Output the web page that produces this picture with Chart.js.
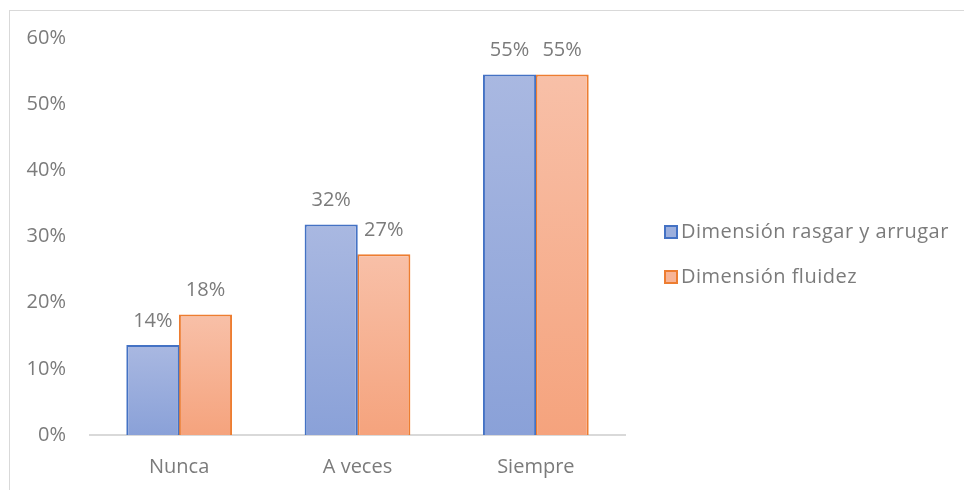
<!DOCTYPE html>
<html>
<head>
<meta charset="utf-8">
<script src="https://cdn.jsdelivr.net/npm/chart.js@4"></script>
<style>
html,body{margin:0;padding:0;background:#fff;}
#wrap{position:relative;width:964px;height:490px;overflow:hidden;}
#frame{position:absolute;left:9px;top:10px;width:1000px;height:600px;border-left:1px solid #d9d9d9;border-top:1px solid #d9d9d9;}
canvas{position:absolute;left:0;top:0;}
</style>
</head>
<body>
<div id="wrap"><div id="frame"></div><canvas id="chart-1" width="964" height="490"></canvas></div>
<script>
const categories=['Nunca','A veces','Siempre'];
const rasgar=[0.136,0.318,0.545];
const fluidez=[0.182,0.273,0.545];
const yTicks=[0,0.1,0.2,0.3,0.4,0.5,0.6];

const FONT='"Open Sans", sans-serif';
const GREY='#7b7b7b';

function barGradient(top,bottom){
  return ctx=>{
    const chart=ctx.chart;
    if(!chart.chartArea||ctx.type!=='data') return top;
    const y=chart.scales.y;
    const y0=y.getPixelForValue(0), y1=y.getPixelForValue(ctx.raw);
    const g=chart.ctx.createLinearGradient(0,y1,0,y0);
    g.addColorStop(0,top);g.addColorStop(1,bottom);
    return g;
  };
}

const valueLabels={
  id:'valueLabels',
  afterDatasetsDraw(chart){
    const c=chart.ctx;
    c.save();
    c.font='20px '+FONT;c.fillStyle=GREY;c.textAlign='center';c.textBaseline='middle';
    chart.data.datasets.forEach((ds,i)=>{
      chart.getDatasetMeta(i).data.forEach((bar,j)=>{
        c.fillText(Math.round(ds.data[j]*100)+'%',bar.x,bar.y-24);
      });
    });
    c.restore();
  }
};

// legend on the right, same spot as the excel one
const sideLegend={
  id:'sideLegend',
  afterDraw(chart){
    const c=chart.ctx;
    const x=chart.chartArea.right+40;
    c.save();
    c.font='20px '+FONT;c.textBaseline='middle';c.textAlign='left';
    c.letterSpacing='0.5px';
    chart.data.datasets.forEach((ds,i)=>{
      const y=232+i*45;
      c.fillStyle=ds.legendFill;c.fillRect(x,y-6,12,12);
      c.strokeStyle=ds.borderColor;c.lineWidth=2;c.strokeRect(x,y-6,12,12);
      c.fillStyle=GREY;c.fillText(ds.label,x+16,y);
    });
    c.restore();
  }
};

document.addEventListener('DOMContentLoaded',()=>{
  const ctx=document.getElementById('chart-1');
  Chart.defaults.font.family=FONT;
  Chart.defaults.color=GREY;
  new Chart(ctx.getContext('2d'),{
    type:'bar',
    data:{
      labels:categories,
      datasets:[
        {label:'Dimensión rasgar y arrugar',data:rasgar,legendFill:'#9cafdd',backgroundColor:barGradient('#a9b8e1','#8aa1d8'),borderColor:'#4472c4',borderWidth:2,categoryPercentage:0.59,barPercentage:1.01},
        {label:'Dimensión fluidez',data:fluidez,legendFill:'#f7b496',backgroundColor:barGradient('#f8c0a8','#f5a37d'),borderColor:'#ed7d31',borderWidth:2,categoryPercentage:0.59,barPercentage:1.01}
      ]
    },
    options:{
      responsive:false,
      animation:false,
      layout:{padding:{top:38,left:0,right:339,bottom:0}},
      plugins:{tooltip:{enabled:false},legend:{display:false}},
      scales:{
        x:{
          grid:{display:false,drawTicks:false},
          border:{display:true,color:'#d9d9d9',width:2},
          ticks:{font:{size:20},color:GREY,padding:20},
          afterFit(s){s.height=55;}
        },
        y:{
          min:0,max:0.6,
          grid:{display:false,drawTicks:false},
          border:{display:false},
          afterBuildTicks(s){s.ticks=yTicks.map(v=>({value:v}));},
          ticks:{font:{size:20},color:GREY,padding:24,callback:v=>Math.round(v*100)+'%'},
          afterFit(s){s.width=90;}
        }
      }
    },
    plugins:[valueLabels,sideLegend]
  });
});
</script>
</body>
</html>
